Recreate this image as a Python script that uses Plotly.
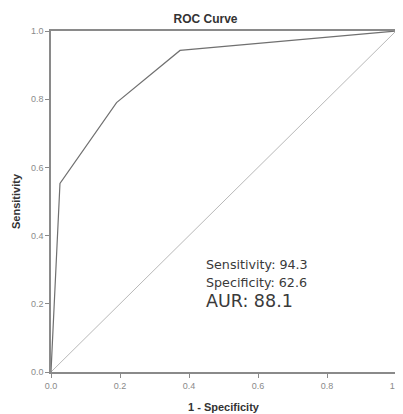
import plotly.graph_objects as go

fpr = [0.0, 0.026, 0.19, 0.374, 1.0]
tpr = [0.0, 0.553, 0.79, 0.943, 1.0]
diag_x = [0.0, 1.0]
diag_y = [0.0, 1.0]
tick_vals = [0.0, 0.2, 0.4, 0.6, 0.8, 1.0]
tick_text = ["0.0", "0.2", "0.4", "0.6", "0.8", "1.0"]
stats_lines = ["Sensitivity: 94.3", "Specificity: 62.6", "AUR: 88.1"]

fig = go.Figure()
fig.add_trace(go.Scatter(x=diag_x, y=diag_y, mode="lines",
                         line=dict(color="#b8b8b8", width=1), showlegend=False, hoverinfo="skip"))
fig.add_trace(go.Scatter(x=fpr, y=tpr, mode="lines",
                         line=dict(color="#707070", width=1.2), showlegend=False))

ann_y = [0.316, 0.263, 0.208]
ann_size = [12.7, 12.7, 17.5]
for txt, yy, sz in zip(stats_lines, ann_y, ann_size):
    fig.add_annotation(x=0.443, y=yy, xref="x", yref="y", text=txt, showarrow=False,
                       xanchor="left", yanchor="middle",
                       font=dict(family="DejaVu Sans", size=sz, color="#3a3a3a"))

axis_common = dict(range=[0, 1], tickvals=tick_vals, ticktext=tick_text,
                   ticks="outside", ticklen=4, tickcolor="#8a8a8a",
                   showline=True, linecolor="#8a8a8a", linewidth=1.5, mirror=True,
                   showgrid=False, zeroline=False, automargin=False,
                   tickfont=dict(family="Liberation Sans", size=9, color="#8a8a8a"))

fig.update_layout(
    width=395, height=406,
    margin=dict(l=43, r=7, t=23, b=42, autoexpand=False),
    paper_bgcolor="white", plot_bgcolor="white",
    title=dict(text="<b>ROC Curve</b>", x=0.5, xanchor="center", y=0.973, yanchor="middle",
               automargin=False,
               font=dict(family="Liberation Sans", size=12, color="#333333")),
    xaxis=dict(**axis_common, title=dict(text="<b>1 - Specificity</b>", standoff=14,
               font=dict(family="Liberation Sans", size=11, color="#333333"))),
    yaxis=dict(**axis_common, title=dict(text="<b>Sensitivity</b>", standoff=8,
               font=dict(family="Liberation Sans", size=11, color="#333333"))),
)

fig.write_html("out.html")
